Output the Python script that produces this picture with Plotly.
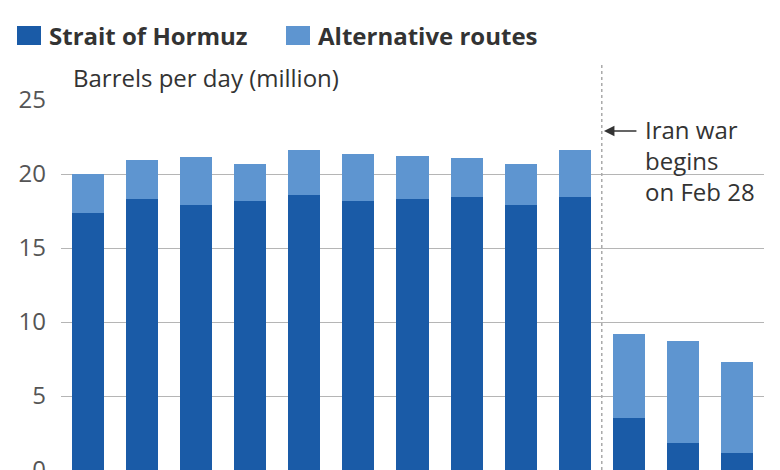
import plotly.graph_objects as go

months = ["M1", "M2", "M3", "M4", "M5", "M6", "M7", "M8", "M9", "M10", "M11", "M12", "M13"]
hormuz = [17.37, 18.31, 17.89, 18.18, 18.58, 18.18, 18.31, 18.47, 17.91, 18.43, 3.52, 1.83, 1.16]
totals = [20.0, 20.92, 21.13, 20.68, 21.6, 21.37, 21.22, 21.08, 20.66, 21.64, 9.19, 8.74, 7.27]
alternative = [round(t - h, 2) for t, h in zip(totals, hormuz)]
series_names = ["Strait of Hormuz", "Alternative routes"]
y_ticks = [0, 5, 10, 15, 20, 25]
axis_title = "Barrels per day (million)"
note_text = "Iran war<br>begins<br>on Feb 28"

DARK = "#1a5ba7"
LIGHT = "#5e95d0"
FONT = "Open Sans"

# The page body has an 8px default margin; the figure is sized so it fills the window exactly.
OFF = 8
W, H = 780 - OFF, 470 - OFF
PL, PR, PT = 61, 764, 100       # plot-area edges in window pixels
PB = 470
PW, PH = PR - PL, PB - PT

x = list(range(len(months)))

fig = go.Figure()
fig.add_trace(go.Bar(x=x, y=hormuz, name=series_names[0], marker=dict(color=DARK, line=dict(width=0))))
fig.add_trace(go.Bar(x=x, y=alternative, name=series_names[1], marker=dict(color=LIGHT, line=dict(width=0))))

fig.update_layout(
    barmode="stack",
    bargap=0.407,
    width=W, height=H,
    margin=dict(l=PL - OFF, r=780 - PR, t=PT - OFF, b=0, autoexpand=False),
    paper_bgcolor="white", plot_bgcolor="white",
    showlegend=False,
    template="none",
    font=dict(family=FONT, color="#333333"),
)
fig.update_xaxes(range=[-0.5, 12.5], showticklabels=False, showgrid=False, zeroline=False,
                 showline=False, ticks="", automargin=False)
fig.update_yaxes(range=[0, 25], tickvals=y_ticks, showgrid=True, gridcolor="rgba(150,150,150,0.7)",
                 gridwidth=1, zeroline=False, showline=False, ticks="", layer="above traces",
                 tickfont=dict(family=FONT, size=24, color="#555555"), ticklabelstandoff=14,
                 ticklabeloverflow="allow", automargin=False)

# Vertical dotted marker between last pre-war bar and first war bar
fig.add_shape(type="line", xref="x", yref="paper", x0=9.5, x1=9.5, y0=0, y1=(PB - 63) / PH,
              line=dict(color="#aaaaaa", width=1.5, dash="dot"))

# Axis title
fig.add_annotation(text=axis_title, xref="paper", yref="paper", x=0, y=(PB - 78) / PH, xshift=10,
                   xanchor="left", yanchor="middle", showarrow=False,
                   font=dict(family=FONT, size=24, color="#333333"))

# Event note
fig.add_annotation(text=note_text, xref="x", yref="y", x=10.26, y=22.9, yshift=20,
                   xanchor="left", yanchor="top", align="left", showarrow=False,
                   font=dict(family=FONT, size=24, color="#333333"))
fig.add_annotation(text="", xref="x", yref="y", x=9.54, y=22.9, ax=34, ay=0,
                   showarrow=True, arrowhead=2, arrowsize=1.4, arrowwidth=1.5, arrowcolor="#333333")

# Legend drawn as swatches + labels
swatch_x = [17, 286]
for i, name in enumerate(series_names):
    col = DARK if i == 0 else LIGHT
    fig.add_shape(type="rect", xref="paper", yref="paper",
                  x0=(swatch_x[i] - PL) / PW, x1=(swatch_x[i] + 24 - PL) / PW,
                  y0=(PB - 45) / PH, y1=(PB - 26) / PH,
                  fillcolor=col, line=dict(width=0))
    fig.add_annotation(text="<b>" + name + "</b>", xref="paper", yref="paper",
                       x=(swatch_x[i] + 30 - PL) / PW, y=(PB - 35) / PH, xanchor="left", yanchor="middle",
                       showarrow=False, font=dict(family=FONT, size=24, color="#333333"))

fig.write_html("out.html")
